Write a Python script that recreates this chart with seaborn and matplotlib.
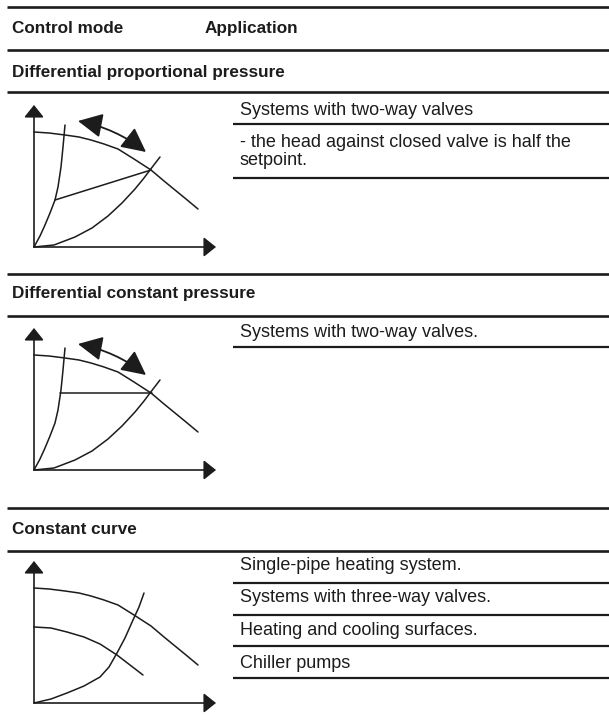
import matplotlib
matplotlib.use("Agg")
import matplotlib.pyplot as plt
import seaborn as sns

# ---- table text ----
header_left = "Control mode"
header_right = "Application"
modes = ["Differential proportional pressure",
         "Differential constant pressure",
         "Constant curve"]
applications = [
    ["Systems with two-way valves",
     "- the head against closed valve is half the",
     "setpoint."],
    ["Systems with two-way valves."],
    ["Single-pipe heating system.",
     "Systems with three-way valves.",
     "Heating and cooling surfaces.",
     "Chiller pumps"],
]

# ---- diagram curves (flow q vs head h, pixel-like units from origin) ----
pump_q = [0, 15, 31, 45, 57, 70, 84, 100, 117, 130, 141, 152, 164]
pump_h = [115, 114, 112, 110, 107, 103, 98, 88, 77, 66, 57, 48, 38]
steep_q = [0, 6, 11, 16, 21, 24, 27, 29, 31]
steep_h = [0, 11, 22, 34, 47, 60, 80, 100, 122]
shallow_q = [0, 20, 41, 58, 74, 88, 101, 110, 116, 126]
shallow_h = [0, 2, 10, 19, 31, 44, 58, 69, 77, 90]
prop_q = [21, 117]
prop_h = [47, 77]
const_q = [26, 118]
const_h = [77, 77]
lower_q = [0, 17, 33, 50, 66, 83, 96, 109]
lower_h = [76, 75, 71, 66, 59, 48, 38, 28]
sys3_q = [0, 17, 33, 50, 66, 75, 83, 91, 99, 105, 110]
sys3_h = [0, 4, 10, 17, 26, 36, 50, 65, 83, 96, 110]
range_arrow = [(44, 126), (112, 95)]
axis_len = (182, 142)

W, H = 609, 721
INK = "#1c1c1c"

sns.set_theme(style="white")
plt.rcParams["font.family"] = ["Liberation Sans", "DejaVu Sans"]

fig = plt.figure(figsize=(W / 100, H / 100), dpi=100)
ax = fig.add_axes([0, 0, 1, 1])
ax.set_xlim(0, W)
ax.set_ylim(H, 0)
ax.axis("off")

# layout (pixels)
full_lines = [7, 50, 92, 274, 316, 508, 551]
app_lines = [[124, 178], [347], [583, 615, 646, 678]]
mode_base = [77, 298, 534]
app_base = [[115, 147, 165], [337], [570, 602, 635, 668]]
diag_origin = [247, 470, 703]

ax.hlines(full_lines, 7, W, color=INK, lw=1.9)
for rows in app_lines:
    ax.hlines(rows, 233, W, color=INK, lw=1.6)

fs = 13
bfs = 12.3
ax.text(12, 33, header_left, fontsize=bfs, fontweight="bold", color=INK, va="baseline")
ax.text(205, 33, header_right, fontsize=bfs, fontweight="bold", color=INK, va="baseline")
for m, yb in zip(modes, mode_base):
    ax.text(12, yb, m, fontsize=bfs, fontweight="bold", color=INK, va="baseline")
for apps, ybs in zip(applications, app_base):
    for a, yb in zip(apps, ybs):
        ax.text(240, yb, a, fontsize=fs, color=INK, va="baseline")


def draw_diagram(oy, kind):
    x0, x1, y0, y1 = -14, 196, -14, 156
    dax = fig.add_axes([(34 + x0) / W, (H - oy + y0) / H, (x1 - x0) / W, (y1 - y0) / H])
    dax.set_xlim(x0, x1)
    dax.set_ylim(y0, y1)
    dax.axis("off")
    kw = dict(color=INK, lw=1.1, sort=False, estimator=None, ax=dax)
    ah = "-|>,head_length=0.75,head_width=0.6"
    for tip in [(0, axis_len[1]), (axis_len[0], 0)]:
        dax.annotate("", xy=tip, xytext=(0, 0),
                     arrowprops=dict(arrowstyle=ah, color=INK, lw=1.2, mutation_scale=10,
                                     shrinkA=0, shrinkB=0))
    sns.lineplot(x=pump_q, y=pump_h, **kw)
    if kind == "const":
        sns.lineplot(x=lower_q, y=lower_h, **kw)
        sns.lineplot(x=sys3_q, y=sys3_h, **kw)
        return
    sns.lineplot(x=steep_q, y=steep_h, **kw)
    sns.lineplot(x=shallow_q, y=shallow_h, **kw)
    if kind == "prop":
        sns.lineplot(x=prop_q, y=prop_h, **kw)
    else:
        sns.lineplot(x=const_q, y=const_h, **kw)
    dax.annotate("", xy=range_arrow[1], xytext=range_arrow[0],
                 arrowprops=dict(arrowstyle="<|-|>,head_length=1.0,head_width=0.5",
                                 connectionstyle="arc3,rad=-0.12", color=INK, lw=1.3,
                                 mutation_scale=15, shrinkA=0, shrinkB=0))


for oy, kind in zip(diag_origin, ["prop", "dp", "const"]):
    draw_diagram(oy, kind)

fig.savefig("out.png", dpi=100)
